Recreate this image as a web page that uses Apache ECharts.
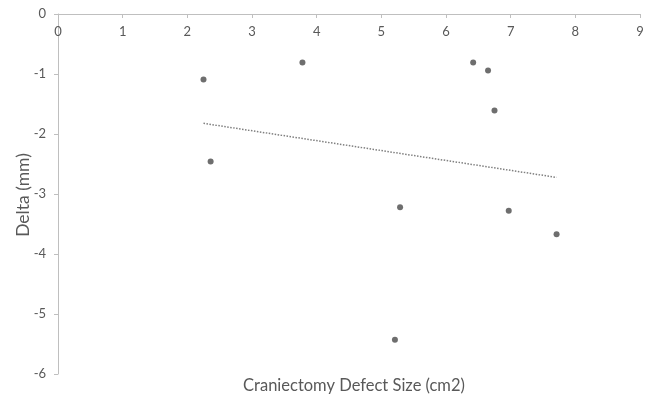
<!DOCTYPE html>
<html>
<head>
<meta charset="utf-8">
<script src="https://cdn.jsdelivr.net/npm/echarts@6/dist/echarts.min.js"></script>
<style>
  html, body { margin: 0; padding: 0; background: #fff; }
  #chart { width: 657px; height: 398px; }
</style>
</head>
<body>
<div id="chart"></div>
<script>
// Data
const defectSize = [2.25, 3.78, 6.42, 6.65, 6.75, 2.36, 5.29, 6.97, 7.71, 5.21];
const delta      = [-1.09, -0.81, -0.81, -0.94, -1.61, -2.46, -3.22, -3.28, -3.67, -5.43];
const xTicks = [0, 1, 2, 3, 4, 5, 6, 7, 8, 9];
const yTicks = [0, -1, -2, -3, -4, -5, -6];
const xTitle = 'Craniectomy Defect Size (cm2)';
const yTitle = 'Delta (mm)';

const points = defectSize.map((x, i) => [x, delta[i]]);

// Linear least-squares trendline over the data range (as a spreadsheet trendline does)
const n = points.length;
const mx = defectSize.reduce((a, b) => a + b, 0) / n;
const my = delta.reduce((a, b) => a + b, 0) / n;
let sxy = 0, sxx = 0;
for (let i = 0; i < n; i++) {
  sxy += (defectSize[i] - mx) * (delta[i] - my);
  sxx += (defectSize[i] - mx) * (defectSize[i] - mx);
}
const slope = sxy / sxx;
const intercept = my - slope * mx;
const xMin = Math.min(...defectSize), xMax = Math.max(...defectSize);
const trend = [[xMin, intercept + slope * xMin], [xMax, intercept + slope * xMax]];

const font = 'Lato, "Open Sans", sans-serif';
const textColor = '#595959';
const axisColor = '#bfbfbf';

const chart = echarts.init(document.getElementById('chart'), null, { renderer: 'canvas' });
chart.setOption({
  animation: false,
  grid: { left: 58, right: 17, top: 14, bottom: 24 },
  xAxis: {
    type: 'value',
    position: 'top',
    min: xTicks[0], max: xTicks[xTicks.length - 1], interval: 1,
    axisLine: { show: true, lineStyle: { color: axisColor, width: 1 } },
    axisTick: { show: true, inside: true, length: 4, lineStyle: { color: axisColor } },
    axisLabel: { inside: true, margin: 11, color: textColor, fontFamily: font, fontSize: 13,
                 verticalAlign: 'top' },
    splitLine: { show: false }
  },
  yAxis: {
    type: 'value',
    min: yTicks[yTicks.length - 1], max: yTicks[0], interval: 1,
    axisLine: { show: true, lineStyle: { color: axisColor, width: 1 } },
    axisTick: { show: true, length: 4, lineStyle: { color: axisColor } },
    axisLabel: { margin: 12, color: textColor, fontFamily: font, fontSize: 13 },
    splitLine: { show: false }
  },
  graphic: [
    { type: 'text', x: 354, y: 386,
      style: { text: xTitle, fill: textColor, font: '16.5px ' + font,
               textAlign: 'center', textVerticalAlign: 'middle' } },
    { type: 'text', x: 23, y: 195, rotation: Math.PI / 2,
      style: { text: yTitle, fill: textColor, font: '17.5px ' + font,
               textAlign: 'center', textVerticalAlign: 'middle' } }
  ],
  series: [
    {
      type: 'line',
      data: trend,
      showSymbol: false,
      lineStyle: { color: '#7f7f7f', width: 1.5, type: [1.5, 1.5] },
      z: 1
    },
    {
      type: 'scatter',
      data: points,
      symbol: 'circle',
      symbolSize: 6,
      itemStyle: { color: '#4a4a4a' },
      z: 2
    }
  ]
});
</script>
</body>
</html>
